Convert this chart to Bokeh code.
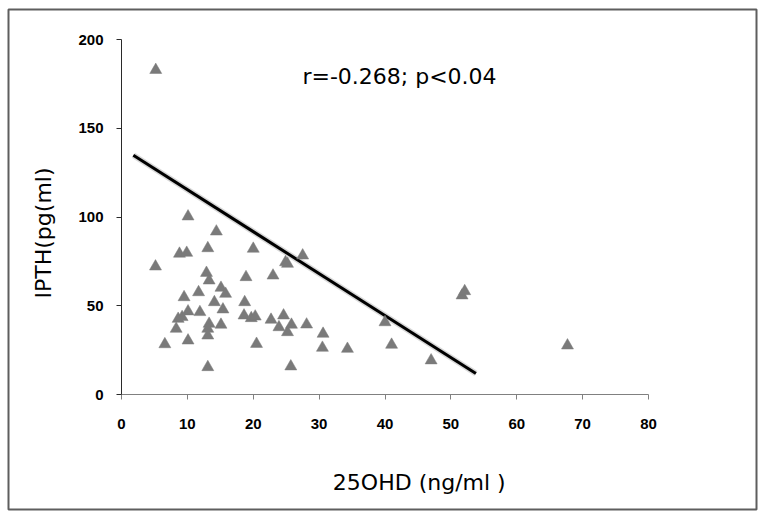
from bokeh.plotting import figure
from bokeh.models import Range1d, Label, FixedTicker
from bokeh.embed import file_html
from bokeh.resources import INLINE

# 25OHD (ng/ml) vs IPTH (pg/ml)
vit_d = [5.2, 5.16, 6.58, 8.3, 8.6, 8.8, 9.2, 9.5, 9.9, 10.1, 10.1, 10.1,
         11.7, 11.9, 12.9, 13.1, 13.3, 13.3, 13.1, 13.1, 13.1, 14.1, 14.4,
         15.1, 15.4, 15.1, 15.8, 18.7, 18.9, 18.6, 19.7, 20.0, 20.3, 20.5,
         22.7, 23.0, 23.9, 24.6, 24.9, 25.2, 25.2, 25.8, 25.7, 27.5, 28.1,
         30.6, 30.5, 34.3, 40.0, 41.0, 47.0, 51.7, 52.1, 67.7]
ipth = [182.8, 72.1, 28.3, 37.0, 42.6, 79.3, 43.6, 54.8, 79.8, 46.8, 30.4, 100.3,
        57.6, 46.4, 68.5, 82.4, 64.2, 39.8, 37.0, 33.2, 15.4, 52.0, 91.8,
        60.1, 47.9, 39.3, 56.7, 52.0, 66.1, 44.5, 43.0, 82.1, 43.9, 28.5,
        42.1, 67.0, 37.9, 44.5, 74.5, 35.1, 73.6, 39.3, 15.8, 78.3, 39.4,
        34.2, 26.3, 25.7, 40.7, 28.0, 19.2, 55.8, 58.2, 27.6]

# trend line as drawn in the original
line_x = [1.8, 53.8]
line_y = [134.8, 11.8]

x_ticks = [0, 10, 20, 30, 40, 50, 60, 70, 80]
y_ticks = [0, 50, 100, 150, 200]
x_bounds = (0, 80)
y_bounds = (0, 200)

x_title = "25OHD (ng/ml )"
y_title = "IPTH(pg(ml)"
stat_text = "r=-0.268; p<0.04"

# text anchors in data units
stat_pos = (42.2, 179.0)
x_title_pos = (45.2, -49.4)
y_title_pos = (-11.8, 91.0)

# The boxed frame fills the picture; the axes sit inside it at x=0 / y=0.
# Page pixels of the box and of the axis ends in the original:
box_l, box_r, box_t, box_b = 8, 756, 9, 509
ax_x0, ax_x1, ax_y0, ax_y1 = 121, 648, 394, 39
kx = (ax_x1 - ax_x0) / (x_bounds[1] - x_bounds[0])
ky = (ax_y0 - ax_y1) / (y_bounds[1] - y_bounds[0])
x_start = x_bounds[0] - (ax_x0 - box_l) / kx
x_end = x_bounds[1] + (box_r - ax_x1) / kx
y_start = y_bounds[0] - (box_b - ax_y0) / ky
y_end = y_bounds[1] + (ax_y1 - box_t) / ky

pad = 2
p = figure(width=box_r - box_l + 2 * pad, height=box_b - box_t + 2 * pad,
           output_backend="svg", toolbar_location=None,
           x_range=Range1d(x_start, x_end), y_range=Range1d(y_start, y_end),
           min_border=pad, min_border_left=pad, min_border_right=pad,
           min_border_top=pad, min_border_bottom=pad)
p.styles = {"margin-left": f"{box_l - pad}px", "margin-top": f"{box_t - pad}px"}
p.background_fill_color = "white"
p.border_fill_color = "white"
p.outline_line_color = "#5e5e5e"
p.outline_line_width = 2
p.grid.visible = False

# axes, drawn at the data origin
p.xaxis.fixed_location = 0
p.yaxis.fixed_location = 0
p.xaxis.bounds = x_bounds
p.yaxis.bounds = y_bounds
p.xaxis.ticker = FixedTicker(ticks=x_ticks)
p.yaxis.ticker = FixedTicker(ticks=y_ticks)
for ax in (p.xaxis, p.yaxis):
    ax.minor_tick_line_color = None
    ax.major_tick_in = 0
    ax.major_tick_out = 5
    ax.major_label_text_font = "Liberation Sans"
    ax.major_label_text_font_style = "bold"
    ax.major_label_text_font_size = "15px"
    ax.major_label_text_color = "black"
p.xaxis.axis_line_color = "#808080"
p.xaxis.major_tick_line_color = "#808080"
p.yaxis.axis_line_color = "#2a2a2a"
p.yaxis.major_tick_line_color = "#2a2a2a"
p.xaxis.major_label_standoff = 19
p.yaxis.major_label_standoff = 13

# trend line with a faint shadow
p.line(line_x, line_y, line_width=6, color="black", alpha=0.15)
p.line(line_x, line_y, line_width=3, color="black")

# data points
p.scatter(vit_d, ipth, marker="triangle", size=12,
          fill_color="#7a7a7a", line_color="#7a7a7a", line_width=0.5)

# texts
p.add_layout(Label(x=stat_pos[0], y=stat_pos[1], text=stat_text,
                   text_font="DejaVu Sans", text_font_size="22px",
                   text_align="center", text_baseline="alphabetic",
                   text_color="black"))
p.add_layout(Label(x=x_title_pos[0], y=x_title_pos[1], text=x_title,
                   text_font="DejaVu Sans", text_font_size="22px",
                   text_align="center", text_baseline="alphabetic",
                   text_color="black"))
p.add_layout(Label(x=y_title_pos[0], y=y_title_pos[1], text=y_title,
                   angle=90, angle_units="deg",
                   text_font="DejaVu Sans", text_font_size="22px",
                   text_align="center", text_baseline="alphabetic",
                   text_color="black"))

open("out.html", "w").write(file_html(p, INLINE))
